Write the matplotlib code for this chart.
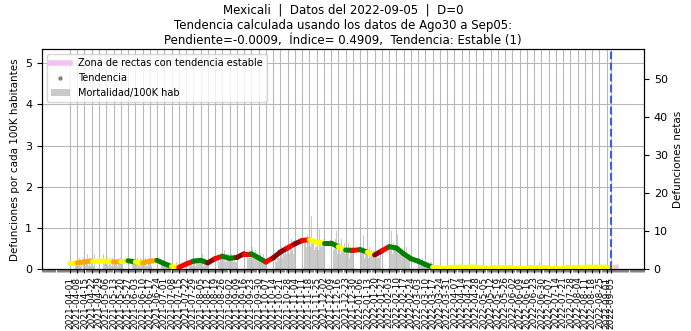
import matplotlib
matplotlib.use("Agg")
import numpy as np
import pandas as pd
import matplotlib.pyplot as plt
import matplotlib.dates as mdates

# --- datos ---
poblacion = 1086000
inicio = "2021-04-01"
fecha_datos = "2022-09-05"

# defunciones diarias (netas), una fila por semana a partir de 2021-04-01
defunciones = [
    1, 2, 0, 3, 1, 2, 2,   2, 1, 3, 1, 2, 0, 3,   3, 1, 2, 4, 1, 2, 1,
    2, 3, 1, 4, 2, 3, 1,   3, 2, 2, 1, 4, 2, 2,   2, 3, 1, 2, 3, 1, 3,
    1, 3, 2, 2, 1, 3, 2,   3, 1, 2, 3, 2, 1, 3,   2, 4, 1, 2, 3, 2, 2,
    1, 2, 3, 1, 2, 3, 2,   2, 1, 2, 3, 1, 1, 2,   3, 2, 1, 4, 2, 1, 2,
    2, 5, 1, 3, 2, 2, 2,   1, 2, 1, 2, 2, 1, 1,   1, 0, 1, 1, 0, 2, 1,
    0, 1, 0, 1, 0, 1, 0,   1, 2, 1, 2, 1, 2, 1,   2, 3, 1, 3, 2, 2, 3,
    3, 2, 4, 1, 3, 2, 2,   2, 1, 2, 2, 1, 3, 1,   3, 2, 4, 3, 2, 3, 3,
    4, 3, 5, 2, 4, 3, 4,   3, 2, 4, 3, 2, 4, 2,   2, 4, 3, 5, 2, 3, 3,
    5, 3, 6, 4, 3, 5, 3,   4, 6, 3, 4, 5, 3, 4,   3, 2, 4, 3, 2, 4, 3,
    2, 1, 3, 2, 2, 1, 3,   2, 4, 3, 2, 4, 3, 3,   4, 6, 3, 5, 4, 6, 4,
    5, 7, 4, 6, 8, 5, 4,   7, 5, 9, 6, 8, 5, 7,   6, 10, 7, 8, 6, 9, 7,
    9, 6, 14, 7, 8, 5, 6,  6, 8, 5, 11, 7, 6, 7,  8, 5, 7, 12, 6, 4, 7,
    6, 9, 5, 7, 8, 10, 4,  5, 7, 4, 8, 6, 5, 7,   4, 6, 5, 7, 3, 6, 5,
    6, 4, 5, 3, 7, 5, 5,   4, 6, 5, 9, 3, 5, 5,   5, 3, 6, 4, 5, 4, 5,
    3, 5, 4, 3, 4, 3, 5,   5, 4, 6, 8, 3, 4, 4,   6, 5, 10, 4, 7, 5, 5,
    5, 9, 4, 6, 5, 5, 5,   4, 5, 3, 6, 3, 4, 4,   3, 2, 4, 2, 3, 3, 2,
    2, 3, 1, 2, 3, 2, 2,   1, 2, 1, 2, 1, 2, 2,   1, 0, 1, 0, 1, 1, 1,
    0, 1, 0, 0, 1, 0, 0,   0, 0, 1, 0, 0, 0, 1,   1, 0, 0, 1, 0, 0, 0,
    0, 0, 1, 0, 1, 0, 0,   0, 1, 0, 0, 0, 0, 1,   0, 0, 0, 1, 0, 1, 0,
    1, 0, 0, 0, 0, 1, 0,   0, 0, 1, 0, 0, 0, 0,   0, 1, 0, 0, 1, 0, 0,
    0, 0, 0, 1, 0, 0, 1,   1, 0, 0, 0, 0, 1, 0,   0, 0, 1, 0, 0, 0, 0,
    0, 1, 0, 0, 1, 0, 0,   0, 0, 0, 1, 0, 2, 0,   1, 0, 0, 0, 1, 0, 0,
    0, 0, 1, 0, 0, 1, 0,   0, 1, 0, 0, 2, 0, 1,   0, 1, 0, 1, 0,
]

# tendencia semanal (por 100K hab), ultimo punto = fecha de datos
tendencia = [
    0.14, 0.16, 0.18, 0.21, 0.21, 0.20, 0.18, 0.19, 0.21, 0.18,
    0.16, 0.20, 0.22, 0.14, 0.07, 0.05, 0.13, 0.20, 0.22, 0.16,
    0.26, 0.32, 0.27, 0.29, 0.38, 0.38, 0.28, 0.18, 0.28, 0.42,
    0.52, 0.62, 0.70, 0.72, 0.66, 0.64, 0.64, 0.55, 0.47, 0.46,
    0.48, 0.42, 0.35, 0.45, 0.55, 0.52, 0.38, 0.26, 0.20, 0.12,
    0.05, 0.04, 0.04, 0.05, 0.06, 0.06, 0.05, 0.04, 0.04, 0.05,
    0.05, 0.04, 0.04, 0.04, 0.05, 0.05, 0.04, 0.04, 0.04, 0.05,
    0.05, 0.05, 0.06, 0.06, 0.05, 0.05,
]
colores_tramo = (
    ["yellow", "orange", "orange", "yellow", "yellow", "yellow", "orange",
     "yellow", "green", "yellow", "orange", "orange", "green", "green",
     "yellow", "red", "red", "green", "green", "darkred", "red", "green",
     "green", "darkred", "red", "green", "green", "red", "darkred",
     "darkred", "red", "darkred", "red", "yellow", "yellow", "green",
     "green", "yellow", "green", "red", "green", "yellow", "darkred",
     "red", "green", "green", "green", "green", "green", "green"]
    + ["yellow"] * 25
)
zona_estable = [0.04, 0.05]

fechas = pd.date_range(inicio, periods=len(defunciones), freq="D")
mortalidad = np.array(defunciones) / poblacion * 1e5
fechas_tend = list(pd.date_range(inicio, fecha_datos, freq="7D")) + [pd.Timestamp(fecha_datos)]
ticks = fechas_tend

fig, ax = plt.subplots(figsize=(6.91, 3.31), dpi=100)
fig.subplots_adjust(left=0.0608, right=0.932, top=0.851, bottom=0.186)

ax.bar(fechas, mortalidad, width=0.7, color="#bdbdbd", alpha=0.8, zorder=1,
       label="Mortalidad/100K hab")
for i in range(len(tendencia) - 1):
    ax.plot(fechas_tend[i:i + 2], tendencia[i:i + 2], color=colores_tramo[i],
            lw=3.6, solid_capstyle="round", zorder=3)
ax.scatter([], [], s=2, color="grey", label="Tendencia")
ax.plot([pd.Timestamp(fecha_datos), pd.Timestamp("2022-09-10")], zona_estable,
        color="#f4c2f0", lw=4, zorder=2, label="Zona de rectas con tendencia estable")
ax.axvline(pd.Timestamp(fecha_datos), color="#3a5fe0", ls="--", lw=1.5, zorder=4)

ax.set_xlim(pd.Timestamp("2021-03-05"), pd.Timestamp("2022-10-07"))
ax.set_ylim(0, 5.33)
ax.set_xticks(ticks)
ax.xaxis.set_major_formatter(mdates.DateFormatter("%Y-%m-%d"))
ax.xaxis.set_minor_locator(mdates.DayLocator())
ax.tick_params(axis="x", which="major", labelrotation=90, labelsize=6.5,
               length=3, width=0.8, pad=2)
ax.tick_params(axis="x", which="minor", length=1.8, width=0.4, color="#222222")
ax.tick_params(axis="y", labelsize=8)
ax.grid(True, which="major", color="#b8b8b8", lw=0.8)
ax.set_axisbelow(True)
ax.set_ylabel("Defunciones por cada 100K habitantes", fontsize=7.5)

h, l = ax.get_legend_handles_labels()
orden = [l.index("Zona de rectas con tendencia estable"), l.index("Tendencia"),
         l.index("Mortalidad/100K hab")]
ax.legend([h[i] for i in orden], [l[i] for i in orden], loc="upper left",
          fontsize=7, markerscale=1.5)

ax2 = ax.twinx()
ax2.set_ylim(0, 5.33 * poblacion / 1e5)
ax2.tick_params(axis="y", labelsize=8)
ax2.set_ylabel("Defunciones netas", fontsize=7.5)

ax.set_title("Mexicali  |  Datos del 2022-09-05  |  D=0\n"
             "Tendencia calculada usando los datos de Ago30 a Sep05:\n"
             "Pendiente=-0.0009,  Índice= 0.4909,  Tendencia: Estable (1)",
             fontsize=8.5, linespacing=1.2, pad=4)

fig.savefig("out.png", dpi=100)
